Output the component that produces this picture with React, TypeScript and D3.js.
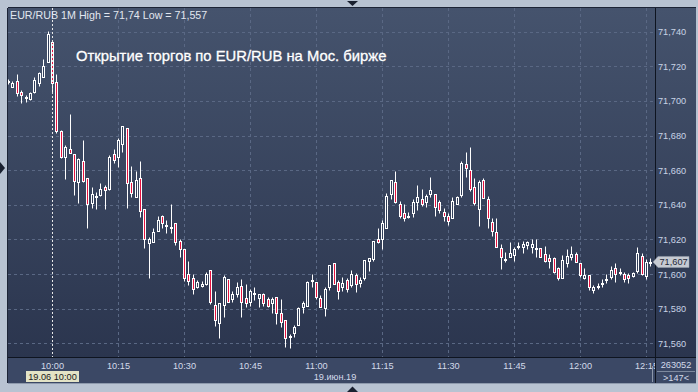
import React from "react";
import * as d3 from "d3";

// 1-minute candles starting 09:50 (147 bars)
const OPEN = [
  71.7108, 71.7083, 71.7115, 71.7052, 71.7017, 71.701, 71.705, 71.7102, 71.714, 71.7223,
  71.7343, 71.7112, 71.6828, 71.6674, 71.6721, 71.6694, 71.653, 71.6653, 71.6553, 71.6413,
  71.6443, 71.6457, 71.6501, 71.649, 71.6692, 71.6678, 71.6749, 71.6842, 71.653, 71.6447,
  71.6553, 71.6374, 71.6181, 71.6187, 71.6251, 71.6335, 71.6279, 71.627, 71.6293, 71.6191,
  71.6143, 71.6, 71.5979, 71.5923, 71.5931, 71.5943, 71.6023, 71.5821, 71.5719, 71.5819,
  71.597, 71.5854, 71.5885, 71.5931, 71.586, 71.5841, 71.5883, 71.586, 71.5883, 71.5854,
  71.5831, 71.5869, 71.5777, 71.5735, 71.5638, 71.5661, 71.5706, 71.5812, 71.5817, 71.5962,
  71.5952, 71.586, 71.5802, 71.5927, 71.6062, 71.5956, 71.5923, 71.5966, 71.5937, 71.5995,
  71.595, 71.5975, 71.6077, 71.6087, 71.6201, 71.6201, 71.6268, 71.6461, 71.653, 71.6403,
  71.6351, 71.6332, 71.6351, 71.6418, 71.6432, 71.6414, 71.6461, 71.6461, 71.6414, 71.636,
  71.6335, 71.6322, 71.6403, 71.6457, 71.6634, 71.6601, 71.6501, 71.6374, 71.6543, 71.6432,
  71.6299, 71.6241, 71.6149, 71.6089, 71.6101, 71.611, 71.6158, 71.6158, 71.6168, 71.6158,
  71.6149, 71.6149, 71.6116, 71.6091, 71.6091, 71.6033, 71.5979, 71.6062, 71.61, 71.6116,
  71.6062, 71.5979, 71.5995, 71.5908, 71.5927, 71.5943, 71.5966, 71.5981, 71.6033, 71.601,
  71.6, 71.5995, 71.5989, 71.6018, 71.6104, 71.5989, 71.6062,
];
const HIGH = [
  71.7126, 71.7117, 71.7154, 71.7063, 71.7035, 71.7054, 71.714, 71.7169, 71.7241, 71.7404,
  71.7352, 71.7156, 71.6832, 71.6746, 71.6923, 71.6694, 71.6669, 71.6775, 71.6557, 71.6501,
  71.6476, 71.6524, 71.6515, 71.6688, 71.6721, 71.6784, 71.6855, 71.6842, 71.6624, 71.6595,
  71.6653, 71.6374, 71.6216, 71.6264, 71.6335, 71.6341, 71.6312, 71.6403, 71.6293, 71.6203,
  71.6143, 71.6075, 71.5998, 71.5966, 71.5962, 71.6014, 71.6023, 71.5902, 71.5831, 71.5993,
  71.597, 71.5904, 71.5956, 71.597, 71.5943, 71.5912, 71.5923, 71.5883, 71.5889, 71.5865,
  71.5865, 71.5869, 71.5854, 71.5735, 71.5654, 71.5706, 71.5808, 71.5846, 71.5962, 71.6,
  71.5952, 71.5879, 71.5923, 71.6052, 71.6065, 71.5966, 71.5981, 71.5975, 71.6023, 71.6004,
  71.5981, 71.6081, 71.6091, 71.6191, 71.6264, 71.6312, 71.647, 71.6543, 71.6595, 71.6422,
  71.6403, 71.636, 71.6432, 71.6515, 71.649, 71.6461, 71.6559, 71.6461, 71.6428, 71.638,
  71.6351, 71.6447, 71.6451, 71.6653, 71.6707, 71.6736, 71.6553, 71.6543, 71.6553, 71.6451,
  71.6322, 71.6322, 71.6174, 71.6129, 71.6183, 71.6158, 71.6187, 71.6191, 71.6193, 71.6201,
  71.6201, 71.6149, 71.6162, 71.6114, 71.61, 71.6043, 71.611, 71.6143, 71.6162, 71.6129,
  71.6062, 71.6033, 71.5995, 71.5937, 71.5946, 71.597, 71.6, 71.6047, 71.6066, 71.6037,
  71.6014, 71.6004, 71.6014, 71.6158, 71.6124, 71.6085, 71.6091,
];
const LOW = [
  71.71, 71.7079, 71.7031, 71.699, 71.6994, 71.7006, 71.7048, 71.7088, 71.7137, 71.7223,
  71.7044, 71.6813, 71.6672, 71.6549, 71.6698, 71.6457, 71.6413, 71.6534, 71.6264, 71.638,
  71.6374, 71.6451, 71.6376, 71.6486, 71.664, 71.662, 71.6707, 71.638, 71.6447, 71.6447,
  71.6332, 71.6149, 71.5979, 71.6187, 71.6251, 71.6264, 71.6239, 71.6239, 71.6168, 71.6101,
  71.5962, 71.5937, 71.5883, 71.5918, 71.5923, 71.5937, 71.5825, 71.57, 71.5629, 71.575,
  71.584, 71.5841, 71.5869, 71.575, 71.5812, 71.5816, 71.585, 71.5812, 71.5816, 71.5812,
  71.5777, 71.5709, 71.5692, 71.558, 71.557, 71.5638, 71.5706, 71.5773, 71.5817, 71.5927,
  71.5854, 71.5808, 71.5758, 71.5908, 71.594, 71.5856, 71.5902, 71.5898, 71.5927, 71.5898,
  71.5923, 71.5966, 71.602, 71.6077, 71.6181, 71.6143, 71.6264, 71.6432, 71.6412, 71.6322,
  71.6308, 71.6322, 71.6328, 71.637, 71.6393, 71.6386, 71.6443, 71.6337, 71.6351, 71.6308,
  71.6283, 71.6322, 71.6403, 71.6443, 71.6563, 71.6482, 71.6399, 71.6278, 71.6441, 71.6264,
  71.622, 71.6158, 71.6029, 71.6072, 71.6101, 71.6075, 71.6145, 71.612, 71.6143, 71.612,
  71.6101, 71.6101, 71.6068, 71.6037, 71.6008, 71.5966, 71.5979, 71.6043, 71.6081, 71.6072,
  71.5981, 71.597, 71.5908, 71.5889, 71.5912, 71.5923, 71.595, 71.597, 71.5956, 71.5995,
  71.5956, 71.595, 71.5981, 71.6008, 71.5995, 71.597, 71.6047,
];
const CLOSE = [
  71.7116, 71.7102, 71.7044, 71.7033, 71.7025, 71.7044, 71.7121, 71.716, 71.7202, 71.7387,
  71.7102, 71.6828, 71.6678, 71.6736, 71.6701, 71.654, 71.6663, 71.654, 71.6403, 71.6461,
  71.6451, 71.649, 71.6484, 71.6678, 71.6659, 71.6774, 71.6855, 71.6524, 71.647, 71.6544,
  71.6364, 71.6201, 71.6201, 71.6241, 71.6312, 71.6293, 71.6283, 71.6273, 71.6183, 71.6145,
  71.5975, 71.5962, 71.5912, 71.5956, 71.5943, 71.6, 71.5837, 71.5735, 71.5831, 71.5981,
  71.5841, 71.5883, 71.5923, 71.5841, 71.5831, 71.5904, 71.5889, 71.5883, 71.5831, 71.5817,
  71.5856, 71.5773, 71.5721, 71.5629, 71.5644, 71.5692, 71.5802, 71.5831, 71.5956, 71.5966,
  71.5869, 71.5812, 71.5912, 71.6052, 71.5941, 71.5902, 71.595, 71.5912, 71.6, 71.5941,
  71.5966, 71.6081, 71.6091, 71.6191, 71.6187, 71.6293, 71.6451, 71.6543, 71.6418, 71.6337,
  71.6322, 71.6336, 71.6418, 71.6443, 71.6403, 71.6451, 71.6486, 71.6389, 71.637, 71.6337,
  71.6308, 71.6422, 71.6443, 71.6644, 71.6611, 71.6489, 71.6412, 71.6534, 71.6441, 71.6322,
  71.6251, 71.6158, 71.6101, 71.6085, 71.612, 71.6145, 71.6164, 71.6174, 71.6183, 71.6174,
  71.6145, 71.6101, 71.6077, 71.6077, 71.6014, 71.5979, 71.6081, 71.6104, 71.6116, 71.6072,
  71.5995, 71.5995, 71.5923, 71.5923, 71.5931, 71.595, 71.5973, 71.6023, 71.6, 71.6014,
  71.597, 71.5975, 71.6008, 71.612, 71.6, 71.6072, 71.607,
];

const TIME_TICK_INDEX = [10, 25, 40, 55, 70, 85, 100, 115, 130, 145];
const TIME_TICK_LABELS = ["10:00", "10:15", "10:30", "10:45", "11:00", "11:15", "11:30", "11:45", "12:00", "12:15"];
const SESSION_START_INDEX = 10;
const PRICE_TICKS = [71.56, 71.58, 71.6, 71.62, 71.64, 71.66, 71.68, 71.7, 71.72, 71.74];
const HEADER = "EUR/RUB 1M High = 71,74 Low = 71,557";
const TITLE = "Открытие торгов по EUR/RUB на Мос. бирже";
const LAST_PRICE = 71.607;
const DATE_LABEL = "19.июн.19";
const CURSOR_LABEL = "19.06 10:00";
const VOLUME_LABEL = "263052";
const COUNT_LABEL = ">147<";

const fmt = (v: number) => v.toFixed(3).replace(".", ",");
const FONT = "'Liberation Sans', Arial, sans-serif";

export default function App() {
  const W = 698;
  const H = 392;
  const L = 8, T = 8, R = 655, B = 357;
  const n = OPEN.length;
  const x = d3.scaleLinear().domain([0, n - 1]).range([8.5, 8.5 + (n - 1) * 4.4]);
  const y = d3.scaleLinear().domain([71.56, 71.74]).range([343.3, 31.7]);
  const px = (v: number) => Math.floor(v) + 0.5;
  const py = (v: number) => Math.round(y(v)) + 0.5;

  const candles = OPEN.map((o, i) => {
    const c = CLOSE[i];
    const cx = px(x(i));
    const top = Math.min(py(o), py(c));
    const bot = Math.max(py(o), py(c));
    const up = c >= o;
    return (
      <g key={i}>
        <line x1={cx} x2={cx} y1={py(HIGH[i])} y2={py(LOW[i])} stroke="#ffffff" strokeWidth={1} />
        <rect x={cx - 1} y={top} width={2} height={Math.max(bot - top, 1)} fill={up ? "#33405b" : "#e5123f"} stroke="#ffffff" strokeWidth={1} />
      </g>
    );
  });

  const lastY = y(LAST_PRICE);

  return (
    <svg width={W} height={H} style={{ position: "absolute", left: 0, top: 0 }} fontFamily={FONT}>
      <defs>
        <linearGradient id="bg" x1="0" y1="0" x2="0" y2="1">
          <stop offset="0" stopColor="#45536d" />
          <stop offset="1" stopColor="#29334c" />
        </linearGradient>
        <clipPath id="plotClip">
          <rect x={L} y={T} width={R - L} height={B - T} />
        </clipPath>
        <clipPath id="axisClip">
          <rect x={L} y={B} width={R - L} height={30} />
        </clipPath>
      </defs>
      {/* outer frame */}
      <rect x={0} y={0} width={W} height={H} fill="#b8c3d2" />
      <rect x={L} y={T} width={696 - L} height={383 - T} fill="url(#bg)" />
      {/* bottom panel */}
      <rect x={L} y={B} width={696 - L} height={383 - B} fill="#3b4865" />
      <line x1={L - 0.5} x2={L - 0.5} y1={T} y2={383} stroke="#1c2436" />
      <line x1={L} x2={696} y1={T - 0.5} y2={T - 0.5} stroke="#1c2436" />
      <line x1={L} x2={696} y1={383.5} y2={383.5} stroke="#8e9aad" />
      <line x1={L} x2={696} y1={B + 0.5} y2={B + 0.5} stroke="#0e1420" />
      <line x1={R + 0.5} x2={R + 0.5} y1={T} y2={383} stroke="#0e1420" />

      {/* grid */}
      <g clipPath="url(#plotClip)">
        {PRICE_TICKS.map((v) => (
          <line key={v} x1={L} x2={R} y1={py(v)} y2={py(v)} stroke="#5a6884" strokeDasharray="3,3" />
        ))}
        {TIME_TICK_INDEX.map((k) =>
          k === SESSION_START_INDEX ? null : (
            <line key={k} x1={px(x(k))} x2={px(x(k))} y1={T} y2={B} stroke="#5a6884" strokeDasharray="3,3" />
          )
        )}
        {candles}
        <line x1={px(x(SESSION_START_INDEX))} x2={px(x(SESSION_START_INDEX))} y1={T} y2={B} stroke="#e8e8e8" strokeDasharray="2,2" />
      </g>

      {/* header & title */}
      <text x={10} y={18.5} fontSize={10.7} fill="#e2e7f0">{HEADER}</text>
      <text x={76} y={61} fontSize={14.8} fill="#ffffff" stroke="#ffffff" strokeWidth={0.3}>{TITLE}</text>

      {/* right price axis */}
      {PRICE_TICKS.map((v) => (
        <text key={v} x={658} y={y(v) + 3.5} fontSize={9.2} fill="#c9d3e6">{fmt(v)}</text>
      ))}
      <path d={`M653,${lastY} L658,${lastY - 5.5} L689,${lastY - 5.5} L689,${lastY + 5.5} L658,${lastY + 5.5} Z`} fill="#c6cad2" stroke="#9aa2b0" strokeWidth={0.5} />
      <text x={659.5} y={lastY + 3.5} fontSize={9.2} fill="#1e2636">{fmt(LAST_PRICE)}</text>

      {/* bottom time axis */}
      <g clipPath="url(#axisClip)">
        {TIME_TICK_INDEX.map((k, i) => (
          <text key={k} x={x(k)} y={368.5} fontSize={9.2} fill="#d3daea" textAnchor="middle">{TIME_TICK_LABELS[i]}</text>
        ))}
      </g>
      <rect x={26} y={371} width={53} height={11} fill="#e3e3c6" />
      <text x={52.5} y={380} fontSize={9.2} fill="#1a1a1a" textAnchor="middle">{CURSOR_LABEL}</text>
      <text x={335} y={380} fontSize={9.2} fill="#d3daea" textAnchor="middle">{DATE_LABEL}</text>
      <line x1={652.5} x2={652.5} y1={366} y2={382} stroke="#8d98ab" />
      <text x={676} y={367.5} fontSize={9.2} fill="#d3daea" textAnchor="middle">{VOLUME_LABEL}</text>
      <line x1={657} x2={695} y1={371.5} y2={371.5} stroke="#7d899e" />
      <text x={676} y={380.5} fontSize={9.2} fill="#d3daea" textAnchor="middle">{COUNT_LABEL}</text>

      {/* frame markers */}
      <path d="M347,1 L358,1 L352.5,6 Z" fill="#1a2130" />
      <path d="M347,392 L358,392 L352.5,386.5 Z" fill="#1a2130" />
      <path d="M0,162 L0,174 L5,168 Z" fill="#1a2130" />
    </svg>
  );
}
